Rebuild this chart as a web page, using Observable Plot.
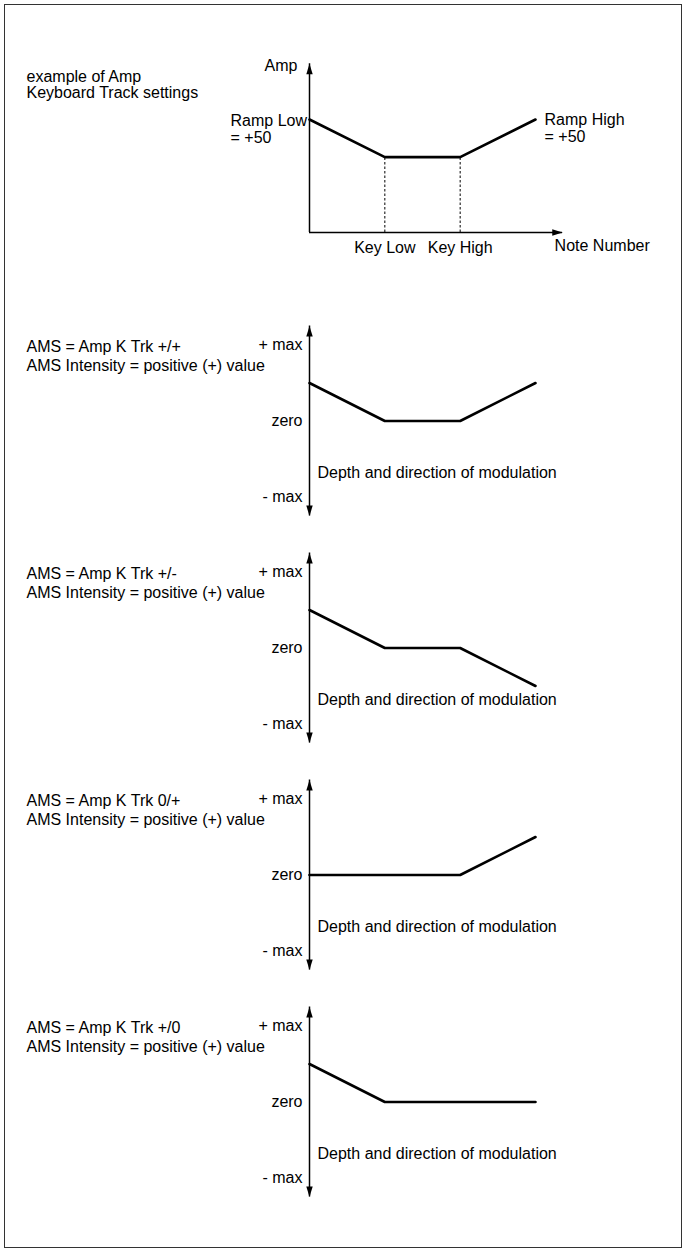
<!DOCTYPE html>
<html><head><meta charset="utf-8">
<script src="https://cdn.jsdelivr.net/npm/d3@7"></script>
<script src="https://cdn.jsdelivr.net/npm/@observablehq/plot@0.6"></script>
<style>
body{margin:0;background:#fff;}
#wrap{position:relative;width:686px;height:1252px;background:#fff;overflow:hidden;}
#wrap svg{position:absolute;left:0;background:transparent !important;}
#border{position:absolute;left:4px;top:4px;width:678px;height:1244px;box-sizing:border-box;border:1.5px solid #333;pointer-events:none;z-index:5;}
</style></head><body>
<div id="wrap"><div id="border"></div></div>
<script>
// ---------- data ----------
const notePositions = [0, 1, 2, 3];           // start, Key Low, Key High, top note
const keyTickValues = [1, 2];
const keyTickLabels = ["Key Low", "Key High"];
const ampValues = [150, 100, 100, 150];        // base amp 100, ramps +50
const ampAxisLabel = "Amp";
const noteAxisLabel = "Note Number";
const rampLowLabel = "Ramp Low\n= +50";
const rampHighLabel = "Ramp High\n= +50";
const exampleTitle = "example of Amp\nKeyboard Track settings";

const depthTicks = [100, 0, -100];
const depthTickLabels = ["+ max", "zero", "- max"];
const depthCaption = "Depth and direction of modulation";

const panelTitles = [
  "AMS = Amp K Trk +/+\nAMS Intensity = positive (+) value",
  "AMS = Amp K Trk +/-\nAMS Intensity = positive (+) value",
  "AMS = Amp K Trk 0/+\nAMS Intensity = positive (+) value",
  "AMS = Amp K Trk +/0\nAMS Intensity = positive (+) value"
];
const depthPlusPlus  = [50, 0, 0, 50];
const depthPlusMinus = [50, 0, 0, -50];
const depthZeroPlus  = [0, 0, 0, 50];
const depthPlusZero  = [50, 0, 0, 0];
const panelSeries = [depthPlusPlus, depthPlusMinus, depthZeroPlus, depthPlusZero];

// ---------- drawing ----------
const W = 686;
const font = {fontSize: "16px", fontFamily: "'Liberation Sans', Arial, sans-serif", background: "transparent", color: "#000", overflow: "visible"};
const arrowHead = {
  draw(ctx, size) {
    const r = Math.sqrt(size / Math.PI);
    const L = r * 2.6, w = r * 0.8;
    ctx.moveTo(0, 0); ctx.lineTo(w, L); ctx.lineTo(-w, L); ctx.closePath();
  }
};
const wrap = document.getElementById("wrap");

// Panel 1: example of Amp Keyboard Track settings
const ampData = notePositions.map((x, i) => ({x, amp: ampValues[i]}));
const yTip = 224, xTip = 3.36;
const p1 = Plot.plot({
  width: W, height: 280,
  marginLeft: 309, marginRight: 151, marginTop: 119, marginBottom: 48,
  x: {domain: [0, 3], axis: null},
  y: {domain: [0, 150], axis: null},
  style: font,
  marks: [
    Plot.ruleX(keyTickValues, {x: d => d, y1: 0, y2: 100, strokeWidth: 1, strokeDasharray: "2.5,2"}),
    Plot.ruleX([0], {x: d => d, y1: 0, y2: yTip, strokeWidth: 1.5}),
    Plot.ruleY([0], {y: d => d, x1: 0, x2: xTip, strokeWidth: 1.5}),
    Plot.dot([{x: 0, y: yTip}], {x: "x", y: "y", symbol: arrowHead, r: 4, fill: "black", stroke: "none"}),
    Plot.dot([{x: xTip, y: 0}], {x: "x", y: "y", symbol: arrowHead, r: 4, fill: "black", stroke: "none", rotate: 90}),
    Plot.line(ampData, {x: "x", y: "amp", strokeWidth: 2.6, strokeLinejoin: "miter"}),
    Plot.axisX({ticks: keyTickValues, tickFormat: d => keyTickLabels[keyTickValues.indexOf(d)], tickSize: 0, tickPadding: 9, anchor: "bottom", label: null}),
    Plot.text([{x: 0, y: yTip, t: ampAxisLabel}], {x: "x", y: "y", text: "t", dx: -12, dy: 2, textAnchor: "end"}),
    Plot.text([{x: xTip, y: 0, t: noteAxisLabel}], {x: "x", y: "y", text: "t", dx: -8, dy: 13, textAnchor: "start"}),
    Plot.text([{x: 0, y: ampValues[0], t: rampLowLabel}], {x: "x", y: "y", text: "t", dx: -79, dy: -6, lineAnchor: "top", lineHeight: 1.08, textAnchor: "start"}),
    Plot.text([{x: 3, y: ampValues[3], t: rampHighLabel}], {x: "x", y: "y", text: "t", dx: 9, dy: -6, lineAnchor: "top", lineHeight: 1.05, textAnchor: "start"}),
    Plot.text([exampleTitle], {frameAnchor: "top-left", dx: -283, dy: -49, lineAnchor: "top", lineHeight: 1.02, textAnchor: "start"})
  ]
});
p1.style.top = "0px";
wrap.appendChild(p1);

// Panels 2-5: AMS depth and direction
panelSeries.forEach((vals, i) => {
  const data = notePositions.map((x, j) => ({x, v: vals[j]}));
  const svg = Plot.plot({
    width: W, height: 227,
    marginLeft: 309, marginRight: 151, marginTop: 37.5, marginBottom: 37.5,
    x: {domain: [0, 3], axis: null},
    y: {domain: [-100, 100], axis: null},
    style: font,
    marks: [
      Plot.ruleX([0], {x: d => d, y1: -125, y2: 125, strokeWidth: 1.5}),
      Plot.dot([{x: 0, y: 125}], {x: "x", y: "y", symbol: arrowHead, r: 4, fill: "black", stroke: "none"}),
      Plot.dot([{x: 0, y: -125}], {x: "x", y: "y", symbol: arrowHead, r: 4, fill: "black", stroke: "none", rotate: 180}),
      Plot.axisY({ticks: depthTicks, tickFormat: d => depthTickLabels[depthTicks.indexOf(d)], tickSize: 0, tickPadding: 7, anchor: "left", label: null}),
      Plot.line(data, {x: "x", y: "v", strokeWidth: 2.6, strokeLinejoin: "miter"}),
      Plot.text([depthCaption], {frameAnchor: "left", dx: 8, dy: 51.5, textAnchor: "start"}),
      Plot.text([panelTitles[i]], {frameAnchor: "top-left", dx: -283, dy: -6, lineAnchor: "top", lineHeight: 1.18, textAnchor: "start"})
    ]
  });
  svg.style.top = (307 + i * 227) + "px";
  wrap.appendChild(svg);
});
</script>
</body></html>
